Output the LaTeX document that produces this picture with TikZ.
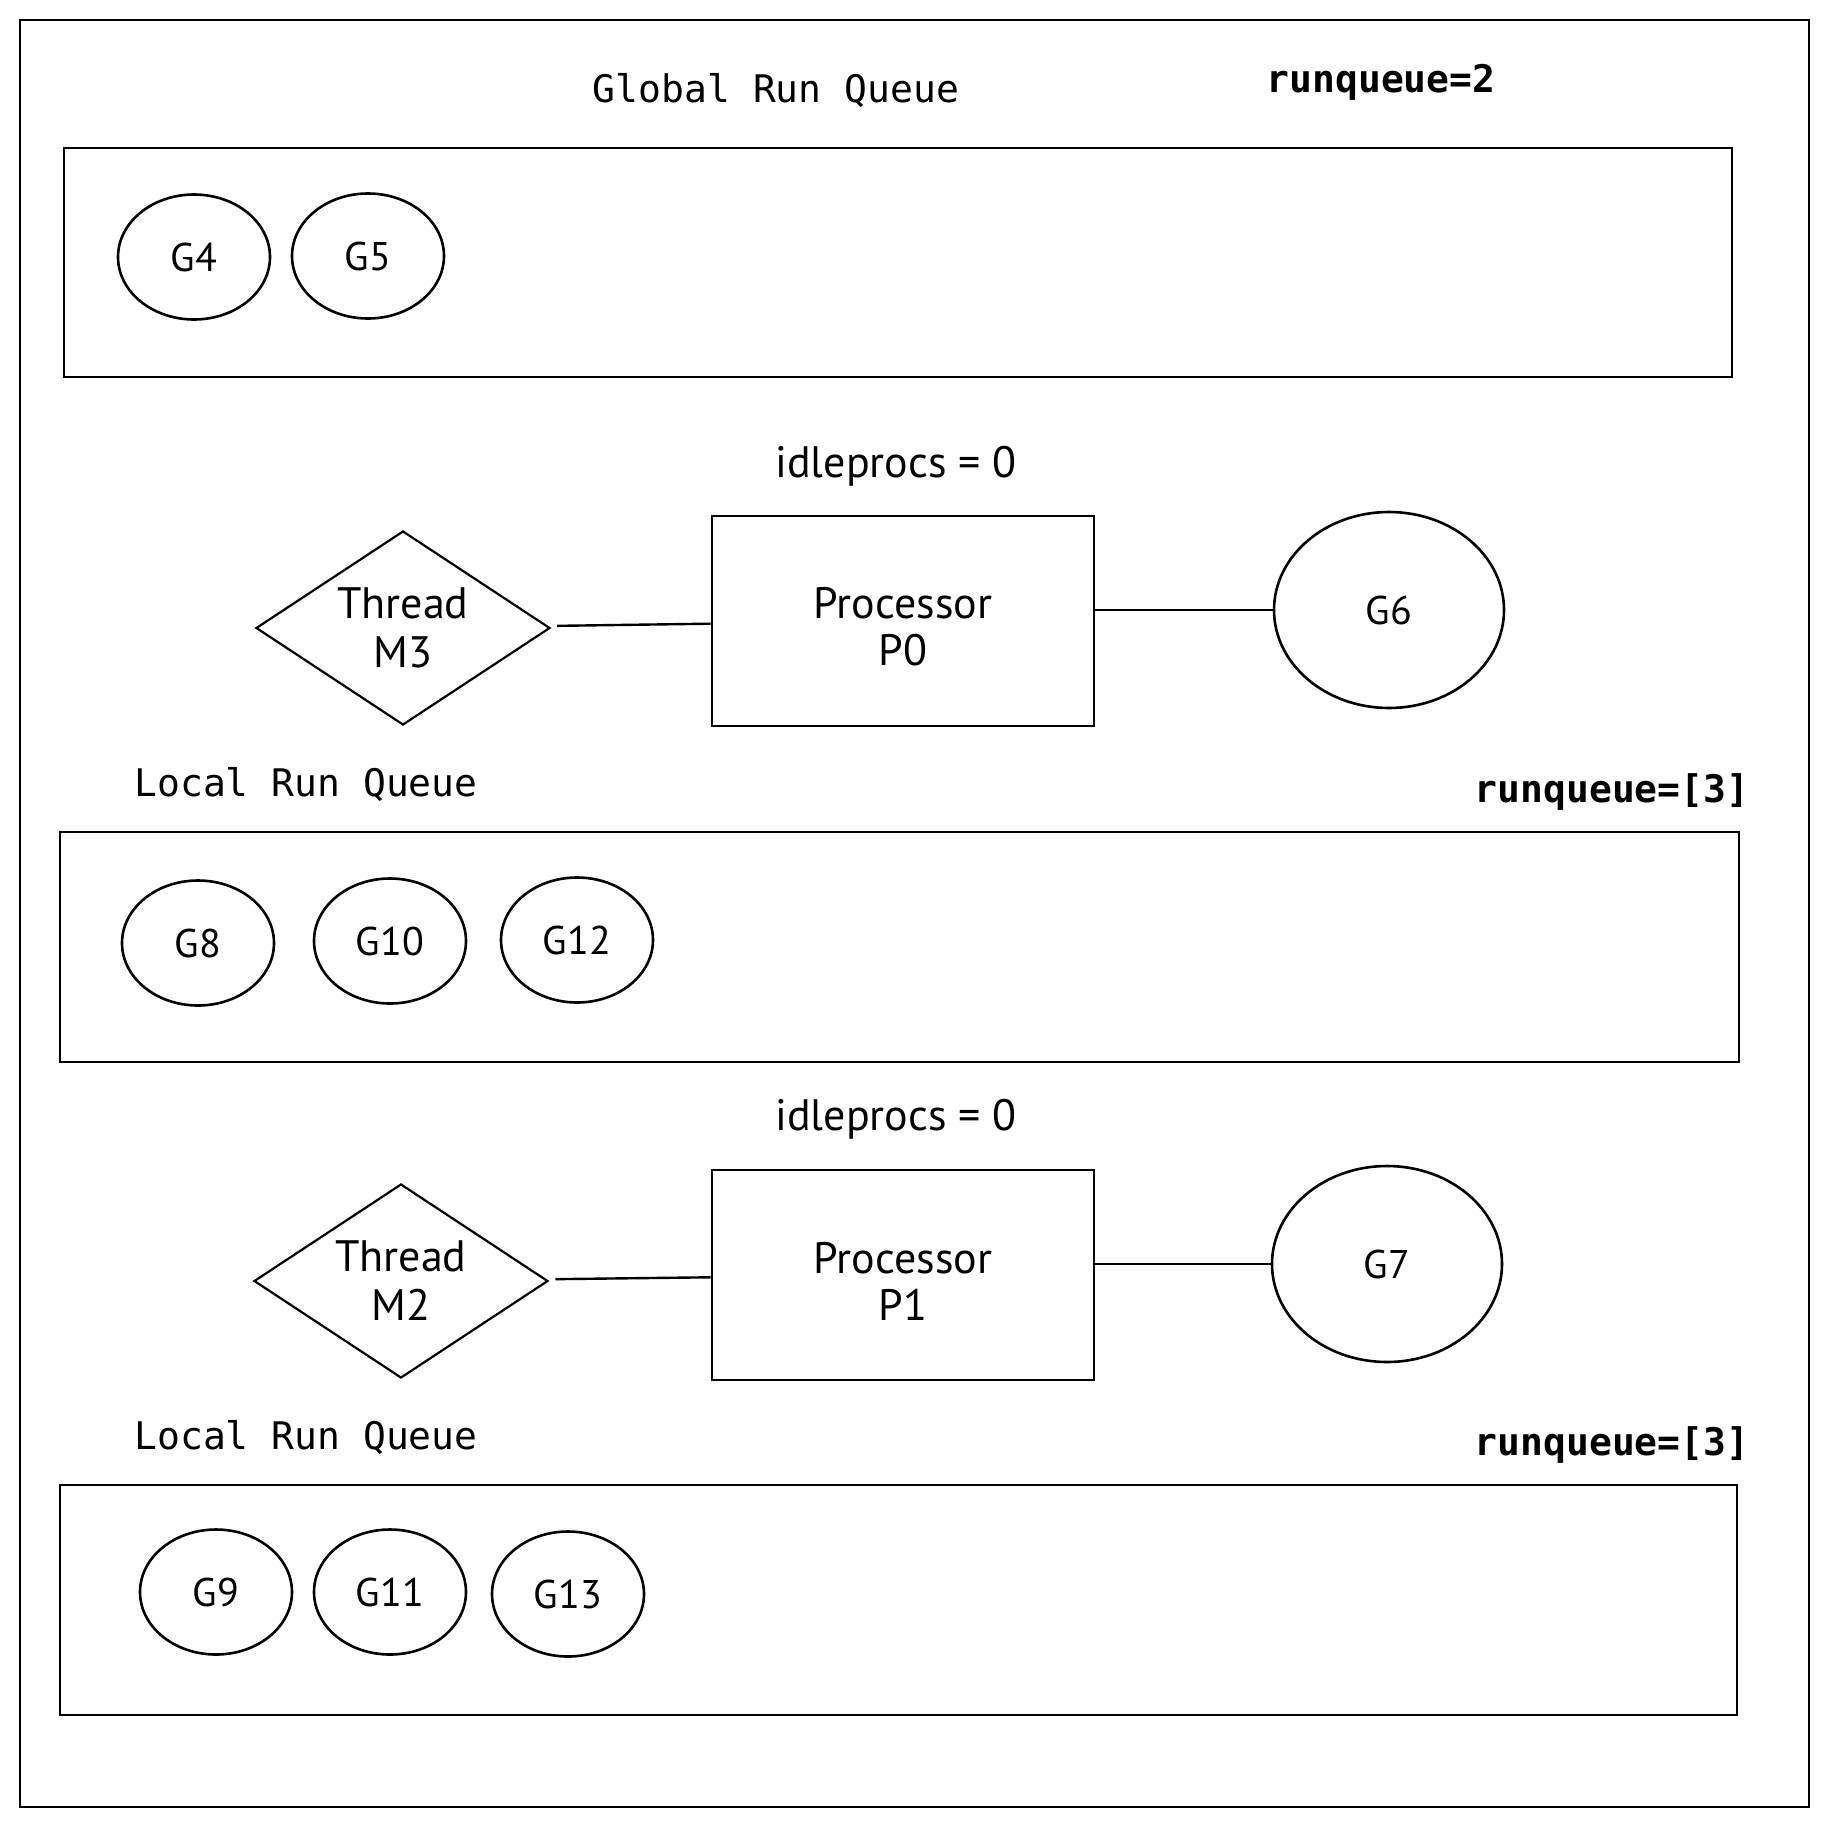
\documentclass[tikz,border=0pt]{standalone}
\usepackage{fontspec}
\setmonofont{DejaVu Sans Mono}
\newfontfamily\handfont{PT Sans}
\usetikzlibrary{shapes.geometric}
\tikzset{
  gor/.style={draw,ellipse,line width=2.6pt,inner sep=0pt,minimum width=152pt,minimum height=125pt,font=\handfont\fontsize{40}{48}\selectfont},
  bigg/.style={gor,minimum width=230pt,minimum height=196pt},
  thr/.style={draw,diamond,line width=2.2pt,inner sep=0pt,shape aspect=1.5,minimum width=294pt,minimum height=194pt,align=center,font=\handfont\fontsize{44}{49}\selectfont},
  proc/.style={draw,rectangle,line width=2.6pt,minimum width=382pt,minimum height=210pt},
  ptext/.style={align=center,yshift=-6pt,font=\handfont\fontsize{44}{47}\selectfont},
  qbox/.style={draw,line width=2.8pt},
  link/.style={line width=2.4pt},
  qlabel/.style={font=\ttfamily\fontsize{38}{44}\selectfont},
  qcount/.style={font=\ttfamily\bfseries\fontsize{38}{44}\selectfont},
  idle/.style={font=\handfont\fontsize{44}{50}\selectfont}
}
\begin{document}
\begin{tikzpicture}[x=1pt,y=-1pt]
    \useasboundingbox (0,0) rectangle (1830,1825);
    \fill[white] (0,0) rectangle (1830,1825);
    \draw[line width=2.4pt] (20,20) rectangle (1809,1807);
        %global run queue
        \node[qlabel] (gtitle) at (776,90) {Global Run Queue};
        \node[qcount] (gcount) at (1381,82) {runqueue=2};
        \draw[qbox] (64,148) rectangle (1732,377);
        \node[gor] (g4) at (194,257) {G4};
        \node[gor] (g5) at (368,256) {G5};
        %M3 - P0 - G6
        \node[idle] (idle0) at (896,466) {idleprocs = 0};
        \node[thr] (m3) at (403,628) {Thread\\M3};
        \node[proc,label={[ptext]center:Processor\\P0}] (p0) at (903,621) {};
        \node[bigg] (g6) at (1389,610) {G6};
        \draw[link,shorten <=9pt] (m3) -- (p0);
        \draw[link] (p0.east |- g6) -- (g6);
        %local run queue of P0
        \node[qlabel] (ltitle0) at (306,784) {Local Run Queue};
        \node[qcount] (lcount0) at (1612,792) {runqueue=[3]};
        \draw[qbox] (60,832) rectangle (1739,1062);
        \node[gor] (g8) at (198,943) {G8};
        \node[gor] (g10) at (390,941) {G10};
        \node[gor] (g12) at (577,940) {G12};
        %M2 - P1 - G7
        \node[idle] (idle1) at (896,1119) {idleprocs = 0};
        \node[thr] (m2) at (401,1281) {Thread\\M2};
        \node[proc,label={[ptext]center:Processor\\P1}] (p1) at (903,1275) {};
        \node[bigg] (g7) at (1387,1264) {G7};
        \draw[link,shorten <=9pt] (m2) -- (p1);
        \draw[link] (p1.east |- g7) -- (g7);
        %local run queue of P1
        \node[qlabel] (ltitle1) at (306,1437) {Local Run Queue};
        \node[qcount] (lcount1) at (1612,1445) {runqueue=[3]};
        \draw[qbox] (60,1485) rectangle (1737,1715);
        \node[gor] (g9) at (216,1592) {G9};
        \node[gor] (g11) at (390,1592) {G11};
        \node[gor] (g13) at (568,1594) {G13};
\end{tikzpicture}
\end{document}
